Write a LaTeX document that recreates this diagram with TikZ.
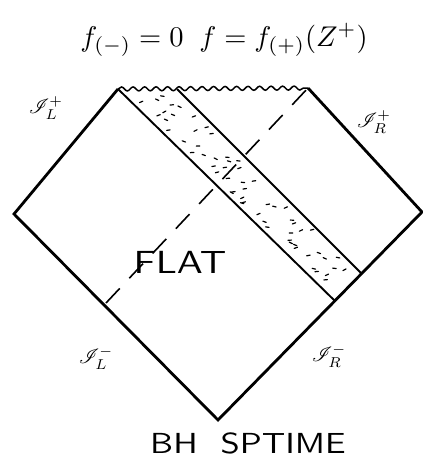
\documentclass[tikz,border=0pt]{standalone}
\usepackage{mathrsfs}
\usepackage{graphicx}
\usetikzlibrary{decorations.pathmorphing}
\begin{document}
\begin{tikzpicture}[x=1pt,y=-1pt,
  edge/.style={line width=2.8pt,line join=miter},
  bandline/.style={line width=1.9pt},
  wavy/.style={line width=1.5pt,decorate,decoration={snake,segment length=11.5pt,amplitude=2pt}},
  dashline/.style={line width=1.6pt,dash pattern=on 20pt off 14pt},
  speck/.style={line width=1.2pt,line cap=round},
  lab/.style={inner sep=0pt},
  big/.style={inner sep=0pt,font=\sffamily}]
\useasboundingbox (0,0) rectangle (423,467);
% corners
\coordinate (L) at (14,214);
\coordinate (TL) at (118,89);
\coordinate (TR) at (308,88);
\coordinate (R) at (422,212);
\coordinate (B) at (218,420);
\coordinate (TB) at (177,89);
\coordinate (E1) at (335,301);
\coordinate (E2) at (362,274);
\coordinate (D1) at (106,303);
\coordinate (D2) at (308,88);
% specks in the band
\pgfmathsetseed{7}
\foreach \i in {1,...,60}{
  \pgfmathsetmacro{\a}{0.12+0.76*rnd}
  \pgfmathsetmacro{\s}{4+rnd*(200-30*\a)}
  \pgfmathsetmacro{\ang}{-30+60*rnd}
  \draw[speck] ({118+\a*59+\s},{89+\s}) -- ++(\ang:3.5);
}
% outline
\draw[edge] (TL) -- (L) -- (B) -- (R) -- (TR);
\draw[wavy] (TL) -- (TR);
% band
\draw[bandline] (TL) -- (E1);
\draw[bandline] (TB) -- (E2);
% dashed line
\draw[dashline] (D1) -- (D2);
% labels
\node[lab] (top) at (224,40) {\scalebox{2.85}{$f_{(-)}=0\;\; f=f_{(+)}(Z^{+})$}};
\node[lab] (sLp) at (46,108) {\scalebox{2.05}{$\mathscr{I}^{+}_{L}$}};
\node[lab] (sRp) at (374,122) {\scalebox{2.05}{$\mathscr{I}^{+}_{R}$}};
\node[lab] (sLm) at (96,358) {\scalebox{2.05}{$\mathscr{I}^{-}_{L}$}};
\node[lab] (sRm) at (329,356) {\scalebox{2.05}{$\mathscr{I}^{-}_{R}$}};
\node[big] (flat) at (180,262) {\scalebox{3.9}[3.2]{FLAT}};
\node[big] (bh) at (248,443) {\scalebox{3.45}[2.9]{BH\ \ SPTIME}};
\end{tikzpicture}
\end{document}
